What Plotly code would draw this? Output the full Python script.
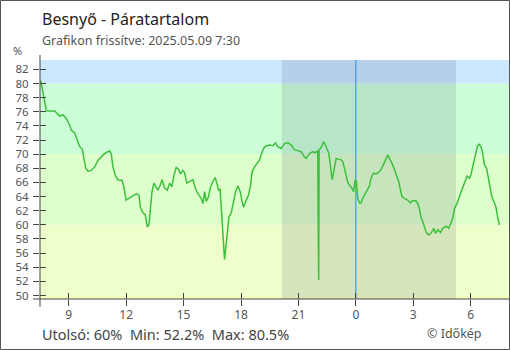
import plotly.graph_objects as go

# ---- data (hours since 2025-05-08 00:00, relative humidity %) ----
hours = [7.54, 7.60, 7.69, 7.75, 7.83, 7.92, 8.27, 8.35, 8.53, 8.70, 8.87, 9.05, 9.13, 9.31, 9.45,
         9.57, 9.71, 9.80, 9.89, 10.01, 10.18, 10.36, 10.53, 10.70, 10.88, 11.05, 11.14, 11.22,
         11.31, 11.43, 11.57, 11.78, 11.88, 12.00, 12.18, 12.35, 12.53, 12.67, 12.74, 12.88,
         13.00, 13.10, 13.19, 13.26, 13.35, 13.45, 13.57, 13.66, 13.78, 13.88, 14.01, 14.15,
         14.27, 14.39, 14.49, 14.61, 14.74, 14.84, 14.96, 15.05, 15.17, 15.31, 15.49, 15.61,
         15.75, 15.92, 16.01, 16.10, 16.18, 16.31, 16.39, 16.53, 16.65, 16.74, 16.83, 16.91,
         16.96, 17.02, 17.09, 17.14, 17.21, 17.28, 17.37, 17.49, 17.61, 17.72, 17.84, 17.96,
         18.04, 18.13, 18.27, 18.39, 18.50, 18.58, 18.71, 18.84, 18.97, 19.05, 19.18, 19.31,
         19.49, 19.66, 19.80, 19.92, 20.10, 20.27, 20.45, 20.62, 20.80, 20.97, 21.14, 21.28,
         21.40, 21.58, 21.75, 21.87, 22.01, 22.03, 22.06, 22.08, 22.22, 22.32, 22.39, 22.50,
         22.59, 22.65, 22.71, 22.76, 22.81, 22.88, 22.97, 23.09, 23.23, 23.32, 23.41, 23.49,
         23.58, 23.67, 23.79, 23.88, 23.96, 24.03, 24.10, 24.19, 24.27, 24.36, 24.45, 24.57,
         24.71, 24.79, 24.92, 25.06, 25.23, 25.35, 25.46, 25.58, 25.67, 25.75, 25.89, 26.02,
         26.14, 26.24, 26.33, 26.41, 26.54, 26.71, 26.85, 26.97, 27.14, 27.23, 27.32, 27.40,
         27.53, 27.66, 27.79, 27.93, 28.07, 28.16, 28.28, 28.42, 28.54, 28.71, 28.85, 28.97,
         29.06, 29.15, 29.28, 29.41, 29.53, 29.67, 29.81, 29.93, 30.01, 30.10, 30.19, 30.28,
         30.36, 30.45, 30.54, 30.63, 30.71, 30.83, 30.92, 31.01, 31.11, 31.24, 31.32, 31.41,
         31.50]
humidity = [80.4, 79.6, 78.4, 77.7, 76.2, 76.1, 76.1, 75.9, 75.4, 75.55, 75.1, 74.1, 73.4, 73.0, 71.8,
            71.1, 70.7, 69.2, 68.0, 67.6, 67.7, 68.2, 69.1, 69.6, 70.1, 70.35, 70.45, 70.1,
            68.2, 67.05, 66.35, 66.3, 65.4, 63.5, 63.75, 64.1, 64.4, 64.2, 62.5, 61.7,
            61.4, 59.7, 60.0, 62.6, 64.7, 65.9, 65.2, 64.9, 65.6, 66.4, 65.2, 64.9,
            65.9, 65.4, 66.9, 68.1, 67.85, 67.2, 67.7, 67.4, 65.9, 66.1, 66.4, 65.2,
            64.4, 63.75, 63.0, 64.7, 63.3, 64.0, 65.2, 66.1, 66.7, 65.9, 64.9, 65.0,
            62.6, 60.2, 57.4, 55.1, 56.9, 59.3, 61.1, 61.7, 63.3, 64.7, 65.5, 64.7,
            63.5, 62.5, 63.5, 64.2, 65.6, 67.5, 68.2, 68.7, 69.2, 69.9, 70.8, 71.2,
            71.3, 71.2, 71.6, 71.05, 70.8, 71.5, 71.6, 71.3, 70.6, 70.5, 70.35, 69.75,
            69.4, 70.1, 70.35, 70.2, 70.5, 61.3, 52.2, 70.6, 71.1, 71.8, 71.45, 70.7,
            70.1, 68.7, 67.3, 66.4, 67.05, 68.2, 69.4, 69.3, 69.2, 68.9, 67.85, 67.05,
            66.0, 65.6, 65.2, 64.7, 66.35, 66.1, 63.75, 63.1, 63.1, 63.75, 64.2, 64.9,
            65.5, 66.6, 67.3, 67.2, 67.5, 68.0, 68.7, 69.4, 69.9, 69.4, 68.7, 67.8,
            66.8, 66.1, 64.9, 64.0, 63.75, 63.5, 63.1, 63.4, 63.4, 63.0, 62.3, 61.1,
            60.2, 59.0, 58.55, 58.8, 59.5, 58.8, 59.3, 58.9, 59.5, 59.8, 59.5, 60.2,
            60.9, 62.3, 63.0, 64.0, 64.9, 66.1, 66.9, 66.6, 67.05, 68.2, 69.4, 70.35,
            71.2, 71.4, 71.0, 70.1, 68.5, 68.0, 66.8, 65.4, 63.9, 63.1, 62.5, 61.05,
            60.0]

x_range = [7.5, 32.0]
y_range = [49.5, 83.33]
tick_hours = [9, 12, 15, 18, 21, 24, 27, 30]
tick_text = ["9", "12", "15", "18", "21", "0", "3", "6"]
y_ticks = list(range(50, 83, 2))

band_edges = [49.5, 50, 60, 70, 80, 83.33]
band_colors = ["#f4ffc2", "#eeffcc", "#ddffcc", "#ccffd8", "#cce8ff"]
sunset, sunrise = 20.13, 29.23
midnight = 24.0

title = "Besnyő - Páratartalom"
subtitle = "Grafikon frissítve: 2025.05.09 7:30"
stats = "Utolsó: 60%  Min: 52.2%  Max: 80.5%"
credit = "© Időkép"

FONT = "Noto Sans"
W, H = 510, 350
L, R, T, B = 40, 1, 60, 51
PW, PH = W - L - R, H - T - B


def px(xp):
    return (xp - L) / PW


def py(yp):
    return (H - B - yp) / PH


fig = go.Figure()
fig.add_trace(go.Scatter(x=hours, y=humidity, mode="lines",
                         line=dict(color="#3cc03c", width=1.5),
                         hoverinfo="skip", showlegend=False))
# invisible trace on overlay axes (for inside tick marks)
fig.add_trace(go.Scatter(x=[hours[0]], y=[humidity[0]], xaxis="x2", yaxis="y2",
                         mode="markers", marker=dict(opacity=0), showlegend=False,
                         hoverinfo="skip"))

shapes = []
for i, c in enumerate(band_colors):
    shapes.append(dict(type="rect", xref="paper", yref="y", x0=0, x1=1,
                       y0=band_edges[i], y1=band_edges[i + 1],
                       fillcolor=c, line=dict(width=0), layer="below"))
shapes.append(dict(type="rect", xref="x", yref="paper", x0=sunset, x1=sunrise, y0=0, y1=1,
                   fillcolor="rgba(20,20,60,0.11)", line=dict(width=0), layer="below"))
shapes.append(dict(type="line", xref="x", yref="paper", x0=midnight, x1=midnight, y0=0, y1=1,
                   line=dict(color="#1f8ee8", width=1), layer="below"))
# axis lines (extending past the corner)
shapes.append(dict(type="line", xref="paper", yref="paper", x0=0, x1=0, y0=py(307), y1=py(55),
                   line=dict(color="#444", width=1)))
shapes.append(dict(type="line", xref="paper", yref="paper", x0=px(33), x1=1, y0=0, y1=0,
                   line=dict(color="#444", width=1)))
# outer border
shapes.append(dict(type="rect", xref="paper", yref="paper", x0=px(0.5), x1=px(509.5),
                   y0=py(349.5), y1=py(0.5), line=dict(color="#555", width=1),
                   fillcolor="rgba(0,0,0,0)"))

annotations = [
    dict(text=title, x=px(40), y=py(19), xref="paper", yref="paper", xanchor="left",
         yanchor="middle", showarrow=False, font=dict(family=FONT, size=16, color="#222")),
    dict(text=subtitle, x=px(40), y=py(40), xref="paper", yref="paper", xanchor="left",
         yanchor="middle", showarrow=False, font=dict(family=FONT, size=12.5, color="#555")),
    dict(text="%", x=px(17), y=py(51), xref="paper", yref="paper", xanchor="center",
         yanchor="middle", showarrow=False, font=dict(family=FONT, size=11, color="#555")),
    dict(text=stats, x=px(40), y=py(334), xref="paper", yref="paper", xanchor="left",
         yanchor="middle", showarrow=False, font=dict(family=FONT, size=14.5, color="#444")),
    dict(text=credit, x=px(454), y=py(333), xref="paper", yref="paper", xanchor="center",
         yanchor="middle", showarrow=False, font=dict(family=FONT, size=12.5, color="#555")),
]

axis_common = dict(showgrid=False, zeroline=False, showline=False, ticklen=6,
                   tickcolor="#444", tickwidth=1, fixedrange=True)

fig.update_layout(
    width=W, height=H, margin=dict(l=L, r=R, t=T, b=B),
    paper_bgcolor="white", plot_bgcolor="white",
    font=dict(family=FONT, size=12, color="#555"),
    shapes=shapes, annotations=annotations, showlegend=False,
    xaxis=dict(range=x_range, tickvals=tick_hours, ticktext=tick_text, ticks="outside",
               tickfont=dict(family=FONT, size=12, color="#555"), ticklabelstandoff=-1,
               **axis_common),
    yaxis=dict(range=y_range, tickvals=y_ticks, ticks="outside",
               tickfont=dict(family=FONT, size=11.5, color="#555"), ticklabelstandoff=2,
               **axis_common),
    xaxis2=dict(range=x_range, tickvals=tick_hours, ticks="inside", overlaying="x",
                showticklabels=False, **axis_common),
    yaxis2=dict(range=y_range, tickvals=y_ticks, ticks="inside", overlaying="y",
                showticklabels=False, **axis_common),
)

fig.write_html("out.html")
